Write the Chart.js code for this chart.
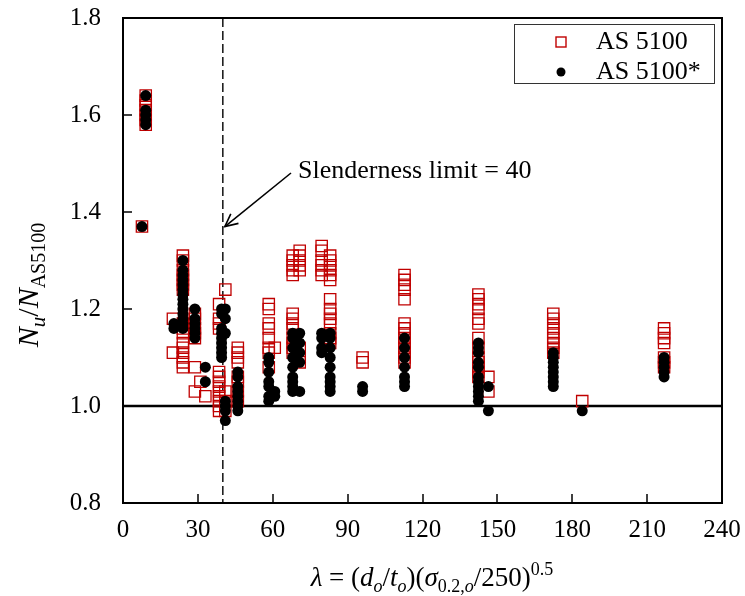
<!DOCTYPE html>
<html>
<head>
<meta charset="utf-8">
<script src="https://cdn.jsdelivr.net/npm/chart.js@4.4.1/dist/chart.umd.min.js"></script>
<style>
  html, body { margin: 0; padding: 0; background: #fff; }
  #wrap { width: 745px; height: 596px; }
</style>
</head>
<body>
<div id="wrap"><canvas id="chart" width="745" height="596"></canvas></div>
<script>
// Column positions (lambda) and N_u/N_AS5100 values
const as5100Cols = [7.6, 9.1, 20, 24, 28.8, 31, 33, 38.5, 41, 46, 58.4, 60.8, 68, 70.8, 79.6, 83, 96, 112.8, 142.4, 146.4, 172.4, 184, 216.8];
const as5100Vals = [
    [1.37],
    [1.64, 1.63, 1.62, 1.61, 1.60, 1.59, 1.58],
    [1.18, 1.11],
    [1.31, 1.30, 1.28, 1.27, 1.26, 1.25, 1.24, 1.17, 1.16, 1.15, 1.13, 1.12, 1.11, 1.10, 1.09, 1.08],
    [1.19, 1.18, 1.16, 1.15, 1.14, 1.08, 1.03],
    [1.05],
    [1.02],
    [1.21, 1.18, 1.17, 1.16, 1.07, 1.06, 1.05, 1.04, 1.03, 1.02, 1.01, 1.00, 0.99],
    [1.24, 1.03, 1.01, 0.99],
    [1.12, 1.11, 1.10, 1.09, 1.06, 1.05, 1.03, 1.01],
    [1.21, 1.20, 1.17, 1.16, 1.14, 1.12, 1.11, 1.08],
    [1.12],
    [1.31, 1.30, 1.29, 1.28, 1.27, 1.19, 1.18, 1.17, 1.16, 1.14, 1.13, 1.12, 1.11],
    [1.32, 1.31, 1.30, 1.29, 1.28, 1.12, 1.10, 1.09],
    [1.33, 1.32, 1.30, 1.29, 1.28, 1.27],
    [1.31, 1.30, 1.29, 1.28, 1.27, 1.26, 1.22, 1.20, 1.19, 1.18, 1.17, 1.15, 1.14, 1.13],
    [1.10, 1.09],
    [1.27, 1.26, 1.25, 1.24, 1.22, 1.17, 1.16, 1.15, 1.14, 1.13, 1.12, 1.11, 1.10, 1.09],
    [1.23, 1.22, 1.21, 1.20, 1.18, 1.17, 1.14, 1.12, 1.10, 1.09, 1.08, 1.07, 1.06],
    [1.06, 1.03],
    [1.19, 1.18, 1.17, 1.16, 1.15, 1.14, 1.13, 1.12, 1.11],
    [1.01],
    [1.16, 1.15, 1.14, 1.13, 1.10, 1.09, 1.08]
];

const as5100sCols = [7.6, 9.1, 20.4, 24, 28.8, 33, 39.5, 41, 46, 58.4, 60.8, 68, 70.8, 79.6, 83, 96, 112.8, 142.4, 146.4, 172.4, 184, 216.8];
const as5100sVals = [
    [1.37],
    [1.64, 1.61, 1.60, 1.59, 1.58],
    [1.17, 1.16],
    [1.30, 1.28, 1.27, 1.26, 1.25, 1.24, 1.23, 1.22, 1.21, 1.20, 1.19, 1.18, 1.17, 1.16],
    [1.20, 1.18, 1.17, 1.16, 1.15, 1.14],
    [1.08, 1.05],
    [1.20, 1.19, 1.16, 1.15, 1.14, 1.13, 1.12, 1.11, 1.10],
    [1.20, 1.18, 1.15, 1.01, 1.00, 0.99, 0.97],
    [1.07, 1.06, 1.04, 1.03, 1.02, 1.01, 1.00, 0.99],
    [1.10, 1.09, 1.07, 1.05, 1.04, 1.02, 1.01],
    [1.03, 1.02],
    [1.15, 1.14, 1.12, 1.10, 1.08, 1.06, 1.05, 1.04, 1.03],
    [1.15, 1.13, 1.11, 1.09, 1.03],
    [1.15, 1.14, 1.12, 1.11],
    [1.15, 1.14, 1.12, 1.10, 1.08, 1.06, 1.05, 1.04, 1.03],
    [1.04, 1.03],
    [1.14, 1.12, 1.10, 1.08, 1.06, 1.05, 1.04],
    [1.13, 1.12, 1.11, 1.09, 1.08, 1.06, 1.05, 1.04, 1.03, 1.02, 1.01],
    [1.04, 0.99],
    [1.11, 1.10, 1.09, 1.08, 1.07, 1.06, 1.05, 1.04],
    [0.99],
    [1.10, 1.09, 1.08, 1.07, 1.06]
];

const xTicks = [0, 30, 60, 90, 120, 150, 180, 210, 240];
const yTicks = [0.8, 1.0, 1.2, 1.4, 1.6, 1.8];
const slenderLimit = 40;
const unityLine = 1.0;

function toPoints(cols, vals) {
    const pts = [];
    cols.forEach((x, i) => vals[i].forEach(y => pts.push({ x: x, y: y })));
    return pts;
}

const FONT = '"Liberation Serif", "Times New Roman", serif';

// draw a run of text pieces (italic / sub / sup) on one baseline
function richText(ctx, parts, x, y) {
    let total = 0;
    parts.forEach(p => {
        ctx.font = (p.it ? 'italic ' : '') + p.sz + 'px ' + FONT;
        p.w = ctx.measureText(p.t).width;
        total += p.w;
    });
    let cx = x - total / 2;
    ctx.textAlign = 'left';
    ctx.textBaseline = 'alphabetic';
    parts.forEach(p => {
        ctx.font = (p.it ? 'italic ' : '') + p.sz + 'px ' + FONT;
        ctx.fillText(p.t, cx, y + (p.dy || 0));
        cx += p.w;
    });
}

const extras = {
    id: 'extras',
    beforeDatasetsDraw(chart) {
        const ctx = chart.ctx;
        const xs = chart.scales.x, ys = chart.scales.y;
        const a = chart.chartArea;
        ctx.save();
        // inward tick marks
        ctx.strokeStyle = '#000';
        ctx.lineWidth = 1.5;
        xTicks.forEach(v => {
            const px = Math.round(xs.getPixelForValue(v));
            ctx.beginPath(); ctx.moveTo(px, a.bottom); ctx.lineTo(px, a.bottom - 9); ctx.stroke();
        });
        yTicks.forEach(v => {
            const py = Math.round(ys.getPixelForValue(v));
            ctx.beginPath(); ctx.moveTo(a.left, py); ctx.lineTo(a.left + 9, py); ctx.stroke();
        });
        // slenderness limit dashed line
        const lx = xs.getPixelForValue(slenderLimit);
        ctx.setLineDash([9, 4]);
        ctx.lineWidth = 1.4;
        ctx.beginPath(); ctx.moveTo(lx, a.top); ctx.lineTo(lx, a.bottom); ctx.stroke();
        ctx.setLineDash([]);
        // N_u / N = 1.0 line
        const uy = ys.getPixelForValue(unityLine);
        ctx.lineWidth = 2.5;
        ctx.beginPath(); ctx.moveTo(a.left, uy); ctx.lineTo(a.right, uy); ctx.stroke();
        ctx.restore();
    },
    afterDraw(chart) {
        const ctx = chart.ctx;
        const xs = chart.scales.x, ys = chart.scales.y;
        const a = chart.chartArea;
        ctx.save();
        ctx.fillStyle = '#000';
        ctx.strokeStyle = '#000';

        // plot frame (top and right)
        ctx.lineWidth = 2;
        ctx.beginPath();
        ctx.moveTo(a.left, a.top); ctx.lineTo(a.right, a.top); ctx.lineTo(a.right, a.bottom);
        ctx.stroke();

        // annotation arrow + label
        const tipX = xs.getPixelForValue(slenderLimit) + 2;
        const tipY = ys.getPixelForValue(1.37);
        const tailX = 291, tailY = 173;
        ctx.lineWidth = 1.6;
        ctx.beginPath(); ctx.moveTo(tailX, tailY); ctx.lineTo(tipX, tipY); ctx.stroke();
        const ang = Math.atan2(tipY - tailY, tipX - tailX);
        ctx.beginPath();
        ctx.moveTo(tipX - 14 * Math.cos(ang - 0.45), tipY - 14 * Math.sin(ang - 0.45));
        ctx.lineTo(tipX, tipY);
        ctx.lineTo(tipX - 14 * Math.cos(ang + 0.45), tipY - 14 * Math.sin(ang + 0.45));
        ctx.stroke();
        ctx.font = '26px ' + FONT;
        ctx.textAlign = 'left';
        ctx.textBaseline = 'middle';
        ctx.fillText('Slenderness limit = 40', 298, 171);

        // legend
        ctx.lineWidth = 1;
        ctx.strokeStyle = '#333';
        ctx.strokeRect(514.5, 24.5, 200, 59);
        ctx.strokeStyle = '#c00000';
        ctx.lineWidth = 1.4;
        ctx.strokeRect(556, 37, 10, 10);
        ctx.beginPath(); ctx.arc(561, 72, 4.5, 0, Math.PI * 2); ctx.fillStyle = '#000'; ctx.fill();
        ctx.font = '26px ' + FONT;
        ctx.textBaseline = 'middle';
        ctx.fillText('AS 5100', 596, 42);
        ctx.fillText('AS 5100*', 596, 72);

        // x axis title
        richText(ctx, [
            { t: '\u03BB', it: true, sz: 27 },
            { t: ' = (', sz: 27 },
            { t: 'd', it: true, sz: 27 },
            { t: 'o', it: true, sz: 18, dy: 6 },
            { t: '/', sz: 27 },
            { t: 't', it: true, sz: 27 },
            { t: 'o', it: true, sz: 18, dy: 6 },
            { t: ')(', sz: 27 },
            { t: '\u03C3', it: true, sz: 27 },
            { t: '0.2,', sz: 18, dy: 6 },
            { t: 'o', it: true, sz: 18, dy: 6 },
            { t: '/250)', sz: 27 },
            { t: '0.5', sz: 18, dy: -11 }
        ], 432, 586);

        // y axis title (rotated)
        ctx.translate(38, 285);
        ctx.rotate(-Math.PI / 2);
        richText(ctx, [
            { t: 'N', it: true, sz: 30 },
            { t: 'u', it: true, sz: 21, dy: 7 },
            { t: '/', sz: 30 },
            { t: 'N', it: true, sz: 30 },
            { t: 'AS5100', sz: 20, dy: 7 }
        ], 0, 0);
        ctx.restore();
    }
};

new Chart(document.getElementById('chart'), {
    type: 'scatter',
    data: {
        datasets: [
            {
                label: 'AS 5100',
                data: toPoints(as5100Cols, as5100Vals),
                pointStyle: 'rect',
                pointRadius: 8,
                borderColor: '#c00000',
                borderWidth: 1.3,
                backgroundColor: 'rgba(255,255,255,0)',
                order: 1
            },
            {
                label: 'AS 5100*',
                data: toPoints(as5100sCols, as5100sVals),
                pointStyle: 'circle',
                pointRadius: 5.5,
                borderWidth: 0,
                backgroundColor: '#000',
                order: 0
            }
        ]
    },
    options: {
        responsive: false,
        animation: false,
        layout: { padding: { top: 18, right: 23, left: 0, bottom: 0 } },
        plugins: { legend: { display: false }, tooltip: { enabled: false } },
        scales: {
            x: {
                type: 'linear',
                min: 0, max: 240,
                afterBuildTicks: s => { s.ticks = xTicks.map(v => ({ value: v })); },
                afterFit: s => { s.height = 93; s.paddingLeft = 0; s.paddingRight = 0; },
                grid: { display: false, drawTicks: false },
                border: { color: '#000', width: 2 },
                ticks: { color: '#000', font: { family: FONT, size: 25 }, padding: 12, maxRotation: 0 }
            },
            y: {
                min: 0.8, max: 1.8,
                afterBuildTicks: s => { s.ticks = yTicks.map(v => ({ value: v })); },
                afterFit: s => { s.width = 123; s.paddingTop = 0; s.paddingBottom = 0; },
                grid: { display: false, drawTicks: false },
                border: { color: '#000', width: 2 },
                ticks: { color: '#000', font: { family: FONT, size: 25 }, padding: 22,
                         callback: v => v.toFixed(1) }
            }
        }
    },
    plugins: [extras]
});
</script>
</body>
</html>
